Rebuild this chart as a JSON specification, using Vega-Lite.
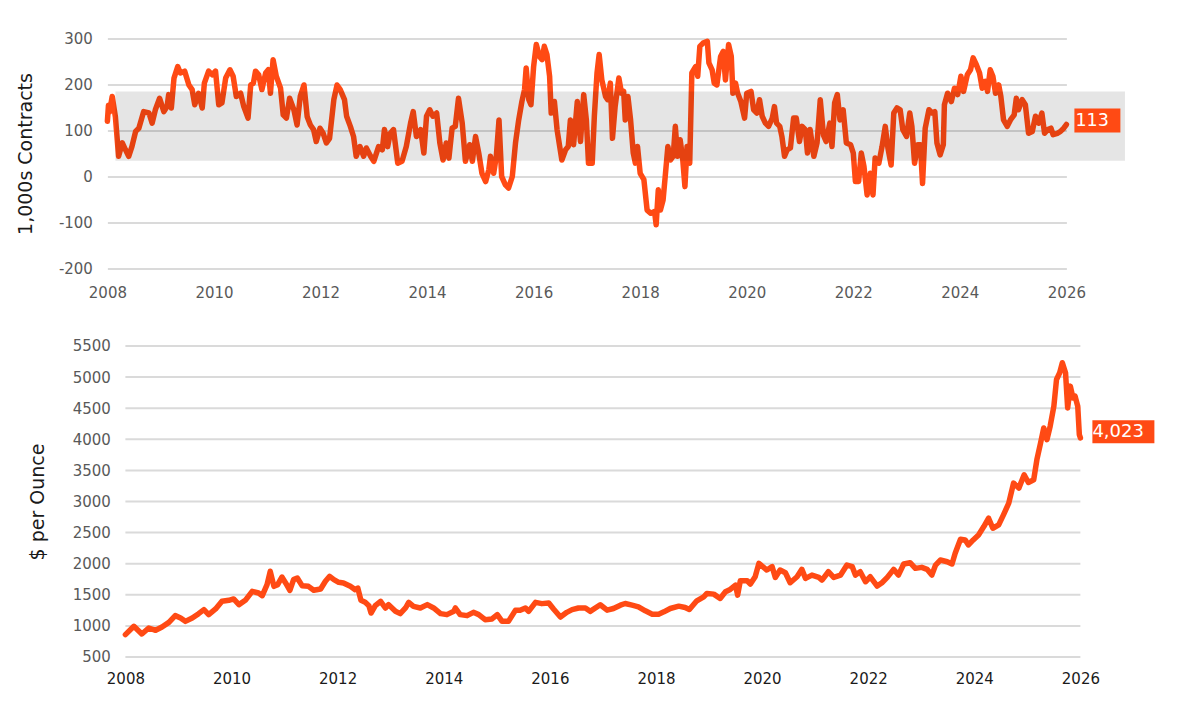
{
  "$schema": "https://vega.github.io/schema/vega-lite/v6.json",
  "background": "white",
  "padding": {"left": 16.4, "top": 31.5, "right": 10, "bottom": 10},
  "columns": 1,
  "spacing": 38.5,
  "config": {
    "view": {"stroke": null},
    "font": "DejaVu Sans",
    "axis": {
      "domain": false,
      "ticks": false,
      "tickSize": 0,
      "gridColor": "#DADADA",
      "gridWidth": 2,
      "labelFont": "DejaVu Sans",
      "labelFontSize": 15,
      "labelColor": "#595959",
      "labelFlush": false,
      "labelOverlap": false,
      "labelBound": false,
      "titleFont": "DejaVu Sans",
      "titleFontSize": 19,
      "titleFontWeight": "normal",
      "titleColor": "#1a1a1a"
    }
  },
  "datasets": {
    "band": [{"start": 2008.15, "end": 2027.1, "low": 34, "high": 185}],
    "goldGrid": [
      {"level": 500}, {"level": 1000}, {"level": 1500}, {"level": 2000}, {"level": 2500}, {"level": 3000},
      {"level": 3500}, {"level": 4000}, {"level": 4500}, {"level": 5000}, {"level": 5500}
    ],
    "cot": [
      {"year": 2008.0, "value": 120}, {"year": 2008.02, "value": 155}, {"year": 2008.04, "value": 140},
      {"year": 2008.09, "value": 174}, {"year": 2008.15, "value": 130}, {"year": 2008.21, "value": 44},
      {"year": 2008.28, "value": 73}, {"year": 2008.34, "value": 58}, {"year": 2008.4, "value": 44},
      {"year": 2008.46, "value": 65}, {"year": 2008.53, "value": 98}, {"year": 2008.59, "value": 105},
      {"year": 2008.68, "value": 141}, {"year": 2008.78, "value": 138}, {"year": 2008.84, "value": 116},
      {"year": 2008.9, "value": 145}, {"year": 2008.98, "value": 170}, {"year": 2009.06, "value": 141},
      {"year": 2009.12, "value": 152}, {"year": 2009.15, "value": 178}, {"year": 2009.2, "value": 149},
      {"year": 2009.25, "value": 214}, {"year": 2009.32, "value": 239}, {"year": 2009.37, "value": 225},
      {"year": 2009.45, "value": 229}, {"year": 2009.53, "value": 199}, {"year": 2009.59, "value": 189},
      {"year": 2009.64, "value": 156}, {"year": 2009.71, "value": 181}, {"year": 2009.78, "value": 149},
      {"year": 2009.82, "value": 203}, {"year": 2009.9, "value": 229}, {"year": 2009.97, "value": 221},
      {"year": 2010.03, "value": 229}, {"year": 2010.09, "value": 156}, {"year": 2010.15, "value": 160},
      {"year": 2010.22, "value": 214}, {"year": 2010.3, "value": 232}, {"year": 2010.36, "value": 218},
      {"year": 2010.42, "value": 174}, {"year": 2010.5, "value": 181}, {"year": 2010.56, "value": 152},
      {"year": 2010.64, "value": 127}, {"year": 2010.69, "value": 199}, {"year": 2010.74, "value": 203},
      {"year": 2010.78, "value": 229}, {"year": 2010.84, "value": 221}, {"year": 2010.9, "value": 189},
      {"year": 2010.97, "value": 225}, {"year": 2011.02, "value": 232}, {"year": 2011.06, "value": 181},
      {"year": 2011.11, "value": 254}, {"year": 2011.17, "value": 218}, {"year": 2011.25, "value": 192},
      {"year": 2011.3, "value": 134}, {"year": 2011.36, "value": 127}, {"year": 2011.42, "value": 170},
      {"year": 2011.5, "value": 145}, {"year": 2011.56, "value": 112}, {"year": 2011.62, "value": 174},
      {"year": 2011.69, "value": 199}, {"year": 2011.75, "value": 130}, {"year": 2011.81, "value": 112},
      {"year": 2011.87, "value": 102}, {"year": 2011.92, "value": 76}, {"year": 2011.99, "value": 105},
      {"year": 2012.05, "value": 94}, {"year": 2012.11, "value": 73}, {"year": 2012.17, "value": 83},
      {"year": 2012.25, "value": 167}, {"year": 2012.31, "value": 199}, {"year": 2012.37, "value": 189},
      {"year": 2012.45, "value": 167}, {"year": 2012.49, "value": 131}, {"year": 2012.56, "value": 109},
      {"year": 2012.62, "value": 87}, {"year": 2012.67, "value": 44}, {"year": 2012.74, "value": 65},
      {"year": 2012.81, "value": 44}, {"year": 2012.86, "value": 62}, {"year": 2012.94, "value": 44},
      {"year": 2013.0, "value": 33}, {"year": 2013.09, "value": 65}, {"year": 2013.16, "value": 58},
      {"year": 2013.2, "value": 102}, {"year": 2013.26, "value": 65}, {"year": 2013.31, "value": 94},
      {"year": 2013.37, "value": 102}, {"year": 2013.45, "value": 29}, {"year": 2013.53, "value": 33},
      {"year": 2013.61, "value": 65}, {"year": 2013.69, "value": 116}, {"year": 2013.74, "value": 141},
      {"year": 2013.8, "value": 87}, {"year": 2013.88, "value": 102}, {"year": 2013.94, "value": 51},
      {"year": 2013.99, "value": 131}, {"year": 2014.05, "value": 145}, {"year": 2014.11, "value": 131},
      {"year": 2014.18, "value": 138}, {"year": 2014.24, "value": 73}, {"year": 2014.3, "value": 36},
      {"year": 2014.36, "value": 73}, {"year": 2014.41, "value": 40}, {"year": 2014.47, "value": 105},
      {"year": 2014.53, "value": 109}, {"year": 2014.59, "value": 170}, {"year": 2014.66, "value": 116},
      {"year": 2014.72, "value": 33}, {"year": 2014.8, "value": 69}, {"year": 2014.85, "value": 33},
      {"year": 2014.91, "value": 87}, {"year": 2014.97, "value": 51}, {"year": 2015.03, "value": 7},
      {"year": 2015.1, "value": -11}, {"year": 2015.16, "value": 15}, {"year": 2015.19, "value": 44},
      {"year": 2015.25, "value": 7}, {"year": 2015.3, "value": 44}, {"year": 2015.35, "value": 123},
      {"year": 2015.4, "value": 0}, {"year": 2015.47, "value": -18}, {"year": 2015.53, "value": -25},
      {"year": 2015.6, "value": 0}, {"year": 2015.66, "value": 73}, {"year": 2015.72, "value": 123},
      {"year": 2015.78, "value": 163}, {"year": 2015.83, "value": 189}, {"year": 2015.86, "value": 236},
      {"year": 2015.91, "value": 167}, {"year": 2015.95, "value": 156}, {"year": 2016.0, "value": 239},
      {"year": 2016.05, "value": 287}, {"year": 2016.11, "value": 261}, {"year": 2016.16, "value": 254},
      {"year": 2016.2, "value": 283}, {"year": 2016.25, "value": 265}, {"year": 2016.3, "value": 218},
      {"year": 2016.33, "value": 138}, {"year": 2016.39, "value": 163}, {"year": 2016.44, "value": 102},
      {"year": 2016.49, "value": 65}, {"year": 2016.53, "value": 36}, {"year": 2016.6, "value": 58},
      {"year": 2016.65, "value": 65}, {"year": 2016.69, "value": 123}, {"year": 2016.75, "value": 69},
      {"year": 2016.82, "value": 163}, {"year": 2016.88, "value": 76}, {"year": 2016.94, "value": 178},
      {"year": 2016.99, "value": 123}, {"year": 2017.03, "value": 29}, {"year": 2017.1, "value": 29},
      {"year": 2017.14, "value": 131}, {"year": 2017.19, "value": 225}, {"year": 2017.23, "value": 265},
      {"year": 2017.28, "value": 210}, {"year": 2017.35, "value": 174}, {"year": 2017.39, "value": 167},
      {"year": 2017.44, "value": 203}, {"year": 2017.48, "value": 83}, {"year": 2017.53, "value": 152},
      {"year": 2017.6, "value": 214}, {"year": 2017.65, "value": 181}, {"year": 2017.69, "value": 185},
      {"year": 2017.72, "value": 123}, {"year": 2017.77, "value": 174}, {"year": 2017.82, "value": 123},
      {"year": 2017.87, "value": 51}, {"year": 2017.91, "value": 29}, {"year": 2017.95, "value": 65},
      {"year": 2018.0, "value": 7}, {"year": 2018.07, "value": -7}, {"year": 2018.13, "value": -73},
      {"year": 2018.2, "value": -80}, {"year": 2018.27, "value": -76}, {"year": 2018.3, "value": -105},
      {"year": 2018.34, "value": -29}, {"year": 2018.38, "value": -73}, {"year": 2018.43, "value": -51},
      {"year": 2018.47, "value": 0}, {"year": 2018.52, "value": 65}, {"year": 2018.57, "value": 36},
      {"year": 2018.62, "value": 44}, {"year": 2018.66, "value": 109}, {"year": 2018.7, "value": 44},
      {"year": 2018.75, "value": 80}, {"year": 2018.8, "value": 36}, {"year": 2018.84, "value": -22},
      {"year": 2018.88, "value": 65}, {"year": 2018.93, "value": 29}, {"year": 2018.97, "value": 225},
      {"year": 2019.04, "value": 239}, {"year": 2019.08, "value": 218}, {"year": 2019.12, "value": 283},
      {"year": 2019.18, "value": 290}, {"year": 2019.26, "value": 294}, {"year": 2019.29, "value": 247},
      {"year": 2019.35, "value": 232}, {"year": 2019.39, "value": 203}, {"year": 2019.44, "value": 199},
      {"year": 2019.51, "value": 261}, {"year": 2019.56, "value": 272}, {"year": 2019.6, "value": 210},
      {"year": 2019.66, "value": 287}, {"year": 2019.71, "value": 261}, {"year": 2019.74, "value": 181},
      {"year": 2019.79, "value": 203}, {"year": 2019.83, "value": 181}, {"year": 2019.89, "value": 163},
      {"year": 2019.96, "value": 127}, {"year": 2020.0, "value": 181}, {"year": 2020.08, "value": 185},
      {"year": 2020.13, "value": 145}, {"year": 2020.19, "value": 138}, {"year": 2020.24, "value": 167},
      {"year": 2020.29, "value": 131}, {"year": 2020.35, "value": 116}, {"year": 2020.41, "value": 109},
      {"year": 2020.48, "value": 127}, {"year": 2020.52, "value": 152}, {"year": 2020.56, "value": 116},
      {"year": 2020.62, "value": 109}, {"year": 2020.66, "value": 87}, {"year": 2020.71, "value": 44},
      {"year": 2020.76, "value": 58}, {"year": 2020.82, "value": 62}, {"year": 2020.88, "value": 127},
      {"year": 2020.93, "value": 127}, {"year": 2020.99, "value": 76}, {"year": 2021.04, "value": 109},
      {"year": 2021.1, "value": 102}, {"year": 2021.14, "value": 51}, {"year": 2021.19, "value": 102},
      {"year": 2021.26, "value": 44}, {"year": 2021.32, "value": 73}, {"year": 2021.38, "value": 167},
      {"year": 2021.44, "value": 90}, {"year": 2021.49, "value": 76}, {"year": 2021.56, "value": 116},
      {"year": 2021.6, "value": 65}, {"year": 2021.65, "value": 160}, {"year": 2021.7, "value": 178},
      {"year": 2021.75, "value": 123}, {"year": 2021.81, "value": 145}, {"year": 2021.87, "value": 73},
      {"year": 2021.95, "value": 69}, {"year": 2022.0, "value": 51}, {"year": 2022.04, "value": -11},
      {"year": 2022.1, "value": -11}, {"year": 2022.15, "value": 51}, {"year": 2022.2, "value": 22},
      {"year": 2022.26, "value": -40}, {"year": 2022.32, "value": 7}, {"year": 2022.37, "value": -40},
      {"year": 2022.41, "value": 40}, {"year": 2022.48, "value": 29}, {"year": 2022.54, "value": 65},
      {"year": 2022.6, "value": 109}, {"year": 2022.65, "value": 62}, {"year": 2022.71, "value": 25},
      {"year": 2022.76, "value": 138}, {"year": 2022.82, "value": 149}, {"year": 2022.88, "value": 145},
      {"year": 2022.93, "value": 102}, {"year": 2023.0, "value": 87}, {"year": 2023.06, "value": 138},
      {"year": 2023.1, "value": 109}, {"year": 2023.15, "value": 29}, {"year": 2023.21, "value": 69},
      {"year": 2023.26, "value": 69}, {"year": 2023.3, "value": -15}, {"year": 2023.35, "value": 105},
      {"year": 2023.42, "value": 145}, {"year": 2023.48, "value": 138}, {"year": 2023.53, "value": 141},
      {"year": 2023.57, "value": 73}, {"year": 2023.63, "value": 47}, {"year": 2023.69, "value": 69},
      {"year": 2023.71, "value": 156}, {"year": 2023.77, "value": 181}, {"year": 2023.84, "value": 163},
      {"year": 2023.9, "value": 192}, {"year": 2023.96, "value": 178}, {"year": 2024.02, "value": 218},
      {"year": 2024.07, "value": 185}, {"year": 2024.14, "value": 221}, {"year": 2024.2, "value": 232},
      {"year": 2024.25, "value": 258}, {"year": 2024.31, "value": 243}, {"year": 2024.37, "value": 225},
      {"year": 2024.42, "value": 192}, {"year": 2024.48, "value": 207}, {"year": 2024.52, "value": 185},
      {"year": 2024.57, "value": 232}, {"year": 2024.62, "value": 218}, {"year": 2024.67, "value": 181},
      {"year": 2024.73, "value": 199}, {"year": 2024.77, "value": 174}, {"year": 2024.82, "value": 123},
      {"year": 2024.89, "value": 109}, {"year": 2024.95, "value": 123}, {"year": 2025.02, "value": 134},
      {"year": 2025.06, "value": 170}, {"year": 2025.1, "value": 145}, {"year": 2025.17, "value": 167},
      {"year": 2025.23, "value": 156}, {"year": 2025.29, "value": 94}, {"year": 2025.36, "value": 98},
      {"year": 2025.42, "value": 131}, {"year": 2025.48, "value": 116}, {"year": 2025.54, "value": 138},
      {"year": 2025.59, "value": 94}, {"year": 2025.65, "value": 102}, {"year": 2025.71, "value": 105},
      {"year": 2025.75, "value": 91}, {"year": 2025.83, "value": 94}, {"year": 2025.89, "value": 98},
      {"year": 2025.95, "value": 105}, {"year": 2026.0, "value": 113}
    ],
    "gold": [
      {"year": 2008.0, "value": 860}, {"year": 2008.16, "value": 993}, {"year": 2008.31, "value": 870},
      {"year": 2008.44, "value": 966}, {"year": 2008.57, "value": 929}, {"year": 2008.69, "value": 982},
      {"year": 2008.82, "value": 1057}, {"year": 2008.94, "value": 1165}, {"year": 2009.04, "value": 1127},
      {"year": 2009.13, "value": 1073}, {"year": 2009.26, "value": 1127}, {"year": 2009.38, "value": 1197},
      {"year": 2009.48, "value": 1261}, {"year": 2009.57, "value": 1181}, {"year": 2009.7, "value": 1272},
      {"year": 2009.82, "value": 1395}, {"year": 2009.95, "value": 1411}, {"year": 2010.04, "value": 1433},
      {"year": 2010.14, "value": 1342}, {"year": 2010.26, "value": 1411}, {"year": 2010.39, "value": 1556},
      {"year": 2010.51, "value": 1529}, {"year": 2010.58, "value": 1486}, {"year": 2010.67, "value": 1663},
      {"year": 2010.73, "value": 1878}, {"year": 2010.8, "value": 1636}, {"year": 2010.87, "value": 1663},
      {"year": 2010.95, "value": 1786}, {"year": 2011.02, "value": 1690}, {"year": 2011.1, "value": 1572},
      {"year": 2011.17, "value": 1744}, {"year": 2011.24, "value": 1770}, {"year": 2011.33, "value": 1647},
      {"year": 2011.45, "value": 1636}, {"year": 2011.55, "value": 1572}, {"year": 2011.68, "value": 1593},
      {"year": 2011.77, "value": 1717}, {"year": 2011.85, "value": 1797}, {"year": 2011.93, "value": 1744},
      {"year": 2012.02, "value": 1701}, {"year": 2012.11, "value": 1690}, {"year": 2012.24, "value": 1636},
      {"year": 2012.33, "value": 1583}, {"year": 2012.38, "value": 1609}, {"year": 2012.44, "value": 1411},
      {"year": 2012.52, "value": 1379}, {"year": 2012.59, "value": 1325}, {"year": 2012.63, "value": 1207},
      {"year": 2012.71, "value": 1325}, {"year": 2012.81, "value": 1395}, {"year": 2012.9, "value": 1288},
      {"year": 2012.96, "value": 1342}, {"year": 2013.09, "value": 1234}, {"year": 2013.18, "value": 1197},
      {"year": 2013.28, "value": 1288}, {"year": 2013.34, "value": 1379}, {"year": 2013.43, "value": 1315},
      {"year": 2013.56, "value": 1288}, {"year": 2013.69, "value": 1342}, {"year": 2013.81, "value": 1288},
      {"year": 2013.94, "value": 1197}, {"year": 2014.06, "value": 1181}, {"year": 2014.19, "value": 1234},
      {"year": 2014.22, "value": 1288}, {"year": 2014.31, "value": 1181}, {"year": 2014.44, "value": 1165},
      {"year": 2014.56, "value": 1218}, {"year": 2014.66, "value": 1181}, {"year": 2014.78, "value": 1100},
      {"year": 2014.91, "value": 1111}, {"year": 2015.01, "value": 1181}, {"year": 2015.1, "value": 1073},
      {"year": 2015.22, "value": 1073}, {"year": 2015.35, "value": 1250}, {"year": 2015.44, "value": 1250},
      {"year": 2015.54, "value": 1288}, {"year": 2015.6, "value": 1234}, {"year": 2015.73, "value": 1379},
      {"year": 2015.85, "value": 1358}, {"year": 2015.98, "value": 1368}, {"year": 2016.07, "value": 1272},
      {"year": 2016.2, "value": 1143}, {"year": 2016.32, "value": 1218}, {"year": 2016.42, "value": 1261},
      {"year": 2016.54, "value": 1288}, {"year": 2016.67, "value": 1288}, {"year": 2016.76, "value": 1234},
      {"year": 2016.95, "value": 1340}, {"year": 2017.08, "value": 1253}, {"year": 2017.2, "value": 1280},
      {"year": 2017.33, "value": 1333}, {"year": 2017.42, "value": 1360}, {"year": 2017.55, "value": 1333},
      {"year": 2017.67, "value": 1306}, {"year": 2017.8, "value": 1242}, {"year": 2017.93, "value": 1188},
      {"year": 2018.05, "value": 1188}, {"year": 2018.15, "value": 1226}, {"year": 2018.27, "value": 1280},
      {"year": 2018.43, "value": 1317}, {"year": 2018.55, "value": 1296}, {"year": 2018.63, "value": 1263},
      {"year": 2018.77, "value": 1403}, {"year": 2018.9, "value": 1468}, {"year": 2018.96, "value": 1521},
      {"year": 2019.09, "value": 1511}, {"year": 2019.21, "value": 1441}, {"year": 2019.31, "value": 1548},
      {"year": 2019.4, "value": 1586}, {"year": 2019.5, "value": 1656}, {"year": 2019.54, "value": 1495},
      {"year": 2019.59, "value": 1726}, {"year": 2019.72, "value": 1726}, {"year": 2019.78, "value": 1672},
      {"year": 2019.87, "value": 1790}, {"year": 2019.94, "value": 2005}, {"year": 2020.03, "value": 1941},
      {"year": 2020.09, "value": 1898}, {"year": 2020.19, "value": 1952}, {"year": 2020.25, "value": 1780},
      {"year": 2020.34, "value": 1898}, {"year": 2020.44, "value": 1855}, {"year": 2020.53, "value": 1694},
      {"year": 2020.66, "value": 1790}, {"year": 2020.75, "value": 1909}, {"year": 2020.82, "value": 1763},
      {"year": 2020.94, "value": 1817}, {"year": 2021.07, "value": 1780}, {"year": 2021.13, "value": 1737},
      {"year": 2021.25, "value": 1871}, {"year": 2021.35, "value": 1780}, {"year": 2021.48, "value": 1817},
      {"year": 2021.6, "value": 1978}, {"year": 2021.7, "value": 1952}, {"year": 2021.76, "value": 1817},
      {"year": 2021.85, "value": 1871}, {"year": 2021.95, "value": 1710}, {"year": 2022.04, "value": 1790},
      {"year": 2022.17, "value": 1640}, {"year": 2022.26, "value": 1694}, {"year": 2022.36, "value": 1780},
      {"year": 2022.48, "value": 1909}, {"year": 2022.57, "value": 1817}, {"year": 2022.67, "value": 1995},
      {"year": 2022.79, "value": 2016}, {"year": 2022.89, "value": 1925}, {"year": 2023.01, "value": 1941},
      {"year": 2023.11, "value": 1909}, {"year": 2023.2, "value": 1817}, {"year": 2023.27, "value": 1978},
      {"year": 2023.36, "value": 2059}, {"year": 2023.49, "value": 2032}, {"year": 2023.58, "value": 1995},
      {"year": 2023.64, "value": 2167}, {"year": 2023.74, "value": 2392}, {"year": 2023.83, "value": 2382},
      {"year": 2023.89, "value": 2301}, {"year": 2023.98, "value": 2382}, {"year": 2024.08, "value": 2462},
      {"year": 2024.18, "value": 2597}, {"year": 2024.27, "value": 2731}, {"year": 2024.35, "value": 2570},
      {"year": 2024.46, "value": 2624}, {"year": 2024.55, "value": 2785}, {"year": 2024.65, "value": 2973},
      {"year": 2024.74, "value": 3296}, {"year": 2024.84, "value": 3215}, {"year": 2024.94, "value": 3430},
      {"year": 2025.02, "value": 3306}, {"year": 2025.12, "value": 3349}, {"year": 2025.18, "value": 3672},
      {"year": 2025.25, "value": 3941}, {"year": 2025.31, "value": 4183}, {"year": 2025.37, "value": 3994},
      {"year": 2025.43, "value": 4209}, {"year": 2025.5, "value": 4532}, {"year": 2025.55, "value": 4962},
      {"year": 2025.61, "value": 5070}, {"year": 2025.66, "value": 5231}, {"year": 2025.72, "value": 5070},
      {"year": 2025.76, "value": 4505}, {"year": 2025.81, "value": 4855}, {"year": 2025.86, "value": 4666},
      {"year": 2025.9, "value": 4693}, {"year": 2025.95, "value": 4532}, {"year": 2025.98, "value": 4075},
      {"year": 2026.0, "value": 4023}
    ]
  },
  "concat": [
    {
      "width": 959,
      "height": 230,
      "layer": [
        {
          "data": {"name": "cot"},
          "mark": {"type": "line", "color": "#FF4A14", "strokeWidth": 5.5, "strokeCap": "round", "strokeJoin": "round"},
          "encoding": {
            "x": {
              "field": "year", "type": "quantitative",
              "scale": {"domain": [2008, 2026], "nice": false, "zero": false},
              "axis": {"values": [2008, 2010, 2012, 2014, 2016, 2018, 2020, 2022, 2024, 2026], "tickCount": 30, "format": "d", "grid": false, "labelPadding": 17, "title": null}
            },
            "y": {
              "field": "value", "type": "quantitative",
              "scale": {"domain": [-200, 300], "nice": false},
              "axis": {
                "values": [-200, -100, 0, 100, 200, 300], "tickCount": 20, "format": "d", "grid": true,
                "labelExpr": "replace(datum.label, '\u2212', '-')",
                "labelPadding": 15, "titlePadding": 22.6, "title": "1,000s Contracts"
              }
            }
          }
        },
        {
          "data": {"name": "band"},
          "mark": {"type": "rect", "color": "#000000", "opacity": 0.1},
          "encoding": {
            "x": {"field": "start", "type": "quantitative"},
            "x2": {"field": "end"},
            "y": {"field": "low", "type": "quantitative"},
            "y2": {"field": "high"}
          }
        },
        {
          "data": {"name": "cot"},
          "transform": [{"filter": "datum.year === 2026"}],
          "mark": {"type": "rect", "color": "#FF4A14", "width": 46, "height": 24, "xOffset": 31, "yOffset": -4},
          "encoding": {
            "x": {"field": "year", "type": "quantitative"},
            "y": {"field": "value", "type": "quantitative"}
          }
        },
        {
          "data": {"name": "cot"},
          "transform": [{"filter": "datum.year === 2026"}],
          "mark": {"type": "text", "color": "white", "font": "DejaVu Sans", "fontSize": 17.5, "align": "left", "baseline": "middle", "xOffset": 9, "yOffset": -3.3},
          "encoding": {
            "x": {"field": "year", "type": "quantitative"},
            "y": {"field": "value", "type": "quantitative"},
            "text": {"field": "value", "type": "quantitative", "format": ","}
          }
        }
      ]
    },
    {
      "width": 973,
      "height": 311,
      "layer": [
        {
          "data": {"name": "goldGrid"},
          "mark": {"type": "rule", "color": "#DADADA", "strokeWidth": 2},
          "encoding": {
            "x": {"datum": 2008, "type": "quantitative"},
            "x2": {"datum": 2026},
            "y": {
              "field": "level", "type": "quantitative",
              "axis": {
                "values": [500, 1000, 1500, 2000, 2500, 3000, 3500, 4000, 4500, 5000, 5500], "tickCount": 30, "format": "d", "grid": false,
                "offset": -18, "labelPadding": 15, "titlePadding": 24.6, "title": "$ per Ounce"
              }
            }
          }
        },
        {
          "data": {"name": "gold"},
          "mark": {"type": "line", "color": "#FF4A14", "strokeWidth": 5.5, "strokeCap": "round", "strokeJoin": "round"},
          "encoding": {
            "x": {
              "field": "year", "type": "quantitative",
              "scale": {"domain": [2007.6608, 2026], "nice": false, "zero": false},
              "axis": {"values": [2008, 2010, 2012, 2014, 2016, 2018, 2020, 2022, 2024, 2026], "tickCount": 30, "format": "d", "grid": false, "labelPadding": 14.6, "labelColor": "#1a1a1a", "title": null}
            },
            "y": {
              "field": "value", "type": "quantitative",
              "scale": {"domain": [500, 5500], "nice": false, "zero": false},
              "axis": {
                "values": [500, 1000, 1500, 2000, 2500, 3000, 3500, 4000, 4500, 5000, 5500], "tickCount": 30, "format": "d", "grid": false,
                "offset": -18, "labelPadding": 15, "titlePadding": 24.6, "title": "$ per Ounce"
              }
            }
          }
        },
        {
          "data": {"name": "gold"},
          "transform": [{"filter": "datum.year === 2026"}],
          "mark": {"type": "rect", "color": "#FF4A14", "width": 62, "height": 23, "xOffset": 43, "yOffset": -6},
          "encoding": {
            "x": {"field": "year", "type": "quantitative"},
            "y": {"field": "value", "type": "quantitative"}
          }
        },
        {
          "data": {"name": "gold"},
          "transform": [{"filter": "datum.year === 2026"}],
          "mark": {"type": "text", "color": "white", "font": "DejaVu Sans", "fontSize": 18, "align": "left", "baseline": "middle", "xOffset": 12, "yOffset": -5.7},
          "encoding": {
            "x": {"field": "year", "type": "quantitative"},
            "y": {"field": "value", "type": "quantitative"},
            "text": {"field": "value", "type": "quantitative", "format": ","}
          }
        }
      ]
    }
  ]
}
